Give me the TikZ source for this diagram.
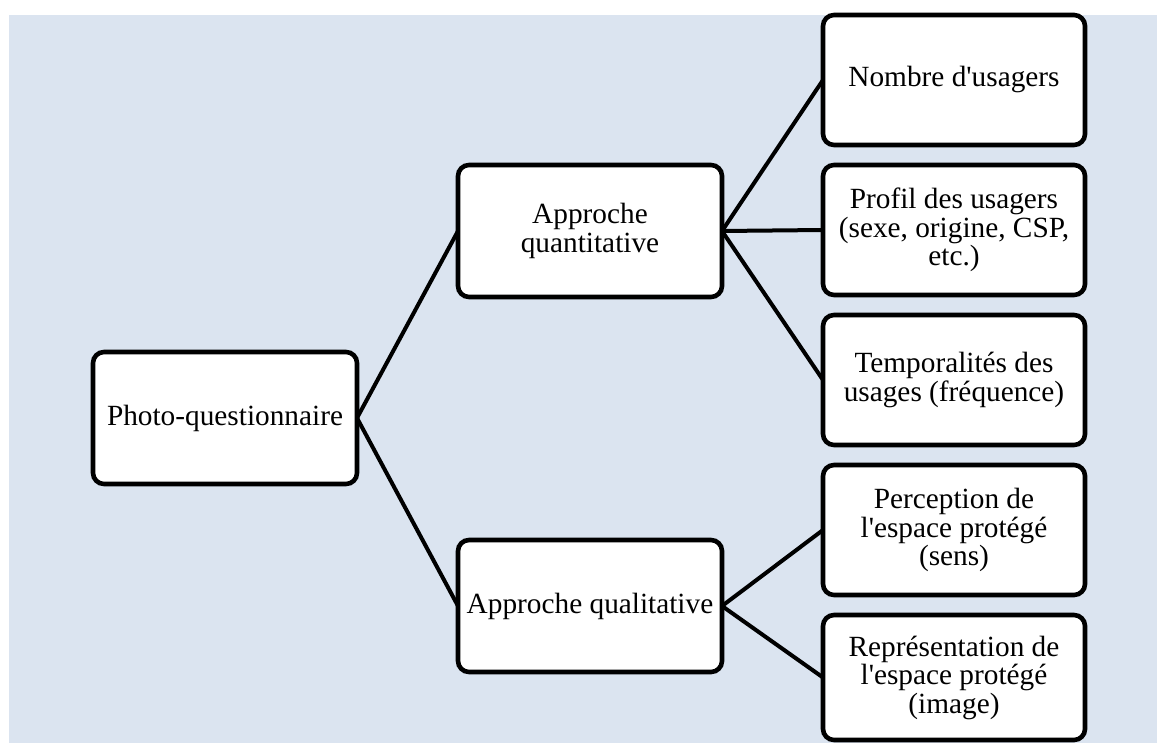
\documentclass[tikz,border=0pt]{standalone}
\usepackage{fontspec}
\setmainfont{Liberation Serif}[Ligatures=TeXOff]
\definecolor{bgblue}{RGB}{219,228,240}
\begin{document}
\begin{tikzpicture}[x=1pt,y=-1pt,
  box/.style={draw=black, line width=4.6pt, fill=white, rounded corners=11pt,
    inner sep=0pt, outer sep=0pt, align=center,
    font=\fontsize{29.3}{28.5}\selectfont},
  lbox/.style={box, minimum width=264pt, minimum height=132pt},
  rbox/.style={box, minimum width=262pt, minimum height=130pt},
  link/.style={line width=4pt}]
\useasboundingbox (0,0) rectangle (1157,743);
\fill[bgblue] (9,15) rectangle (1157,743);
\node[lbox] (root) at (225,418) {Photo-questionnaire};
\node[lbox] (quant) at (590,231) {Approche\\quantitative};
\node[lbox] (qual) at (590,606) {Approche qualitative};
\node[rbox] (nb) at (954,80) {Nombre d'usagers};
\node[rbox] (pr) at (954,230) {Profil des usagers\\(sexe, origine, CSP,\\etc.)};
\node[rbox] (tp) at (954,380) {Temporalités des\\usages (fréquence)};
\node[rbox] (pe) at (954,530) {Perception de\\l'espace protégé\\(sens)};
\node[rbox, minimum height=125pt] (re) at (954,677.5) {Représentation de\\l'espace protégé\\(image)};
\draw[link] (root.east) -- (quant.west);
\draw[link] (root.east) -- (qual.west);
\draw[link] (quant.east) -- (nb.west);
\draw[link] (quant.east) -- (pr.west);
\draw[link] (quant.east) -- (tp.west);
\draw[link] (qual.east) -- (pe.west);
\draw[link] (qual.east) -- (re.west);
\end{tikzpicture}
\end{document}
